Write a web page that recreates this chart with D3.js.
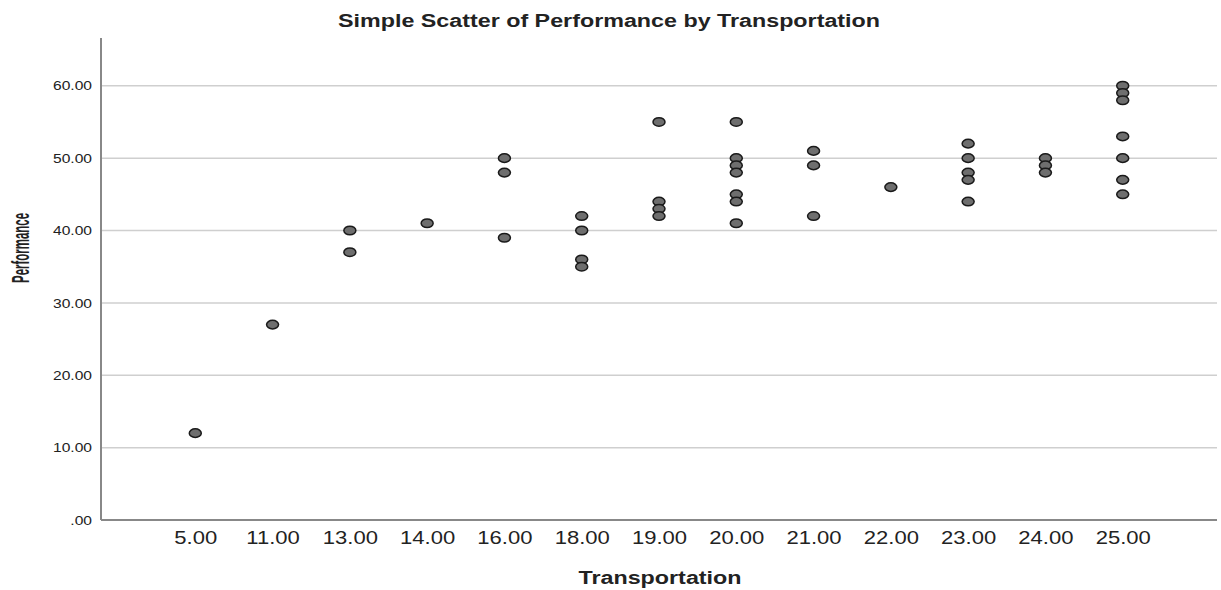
<!DOCTYPE html>
<html>
<head>
<meta charset="utf-8">
<script src="https://cdn.jsdelivr.net/npm/d3@7"></script>
<style>
  body { margin: 0; background: #fff; }
  text { font-family: "Liberation Sans", Arial, sans-serif; fill: #222; }
</style>
</head>
<body>
<svg id="chart" width="1221" height="590"></svg>
<script>
// categories on the x axis (Transportation values, treated as ordinal)
const transport = [5, 11, 13, 14, 16, 18, 19, 20, 21, 22, 23, 24, 25];
// Performance values observed for each transportation category
const performance = [
  [12],
  [27],
  [40, 37],
  [41],
  [50, 48, 39],
  [42, 40, 36, 35],
  [55, 44, 43, 42],
  [55, 50, 49, 48, 45, 44, 41],
  [51, 49, 42],
  [46],
  [52, 50, 48, 47, 44],
  [50, 49, 48],
  [60, 59, 58, 53, 50, 47, 45]
];
const yTicks = [0, 10, 20, 30, 40, 50, 60];

const points = [];
transport.forEach((t, i) => performance[i].forEach(v => points.push({ t, v })));

const svg = d3.select("#chart");
const margin = { left: 101, right: 4, top: 38, bottom: 70 };
const W = 1221, H = 590;

const x = d3.scalePoint()
  .domain(transport)
  .range([margin.left, W - margin.right])
  .padding(1.22);

const y = d3.scaleLinear()
  .domain([0, 66.6])
  .range([H - margin.bottom, margin.top]);

const fmtY = d => d === 0 ? ".00" : d3.format(".2f")(d);

// gridlines
svg.append("g").selectAll("line")
  .data(yTicks.filter(d => d > 0))
  .join("line")
  .attr("x1", margin.left).attr("x2", W - margin.right)
  .attr("y1", d => y(d)).attr("y2", d => y(d))
  .attr("stroke", "#cfcfcf").attr("stroke-width", 1.5);

// y axis
const yAxis = svg.append("g")
  .attr("transform", `translate(${margin.left - 9},0)`)
  .call(d3.axisLeft(y).tickValues(yTicks).tickFormat(fmtY).tickSize(0).tickPadding(0));
yAxis.select(".domain").remove();
yAxis.selectAll("text")
  .style("font-size", "13px").attr("fill", "#222")
  .attr("transform", "scale(1.2,1)");

// x axis
const xAxis = svg.append("g")
  .attr("transform", `translate(0,${y(0)})`)
  .call(d3.axisBottom(x).tickFormat(d => d3.format(".2f")(d)).tickSize(0).tickPadding(11));
xAxis.select(".domain").remove();
xAxis.selectAll("text")
  .style("font-size", "19px").attr("fill", "#333")
  .attr("transform", "scale(1.16,1)");

// axis lines
svg.append("line")
  .attr("x1", margin.left).attr("x2", margin.left)
  .attr("y1", margin.top).attr("y2", y(0))
  .attr("stroke", "#888").attr("stroke-width", 2);
svg.append("line")
  .attr("x1", margin.left).attr("x2", W - margin.right)
  .attr("y1", y(0)).attr("y2", y(0))
  .attr("stroke", "#888").attr("stroke-width", 2);

// points
svg.append("g").selectAll("ellipse")
  .data(points)
  .join("ellipse")
  .attr("cx", d => x(d.t))
  .attr("cy", d => y(d.v))
  .attr("rx", 6).attr("ry", 4.3)
  .attr("fill", "#6e6e6e")
  .attr("stroke", "#1a1a1a").attr("stroke-width", 1.5);

// titles
svg.append("text")
  .attr("x", 609).attr("y", 27)
  .attr("text-anchor", "middle")
  .attr("textLength", 542).attr("lengthAdjust", "spacingAndGlyphs")
  .style("font-size", "18px").style("font-weight", "bold")
  .text("Simple Scatter of Performance by Transportation");

svg.append("text")
  .attr("x", 660).attr("y", 584)
  .attr("text-anchor", "middle")
  .attr("textLength", 163).attr("lengthAdjust", "spacingAndGlyphs")
  .style("font-size", "18px").style("font-weight", "bold")
  .text("Transportation");

svg.append("text")
  .attr("transform", "translate(29,248) rotate(-90)")
  .attr("text-anchor", "middle")
  .attr("textLength", 70).attr("lengthAdjust", "spacingAndGlyphs")
  .style("font-size", "24px").style("font-weight", "bold")
  .text("Performance");
</script>
</body>
</html>
